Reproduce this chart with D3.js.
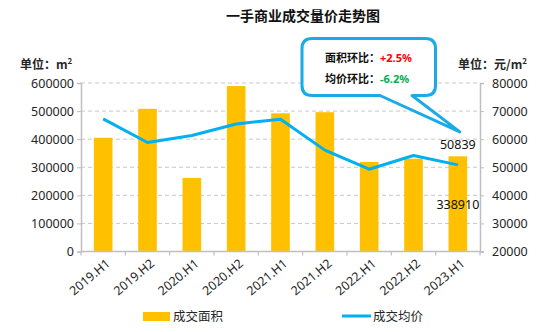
<!DOCTYPE html>
<html><head><meta charset="utf-8">
<script src="https://cdn.jsdelivr.net/npm/d3@7/dist/d3.min.js"></script>
<style>
html,body{margin:0;padding:0;background:#fff;}
svg{display:block;font-family:"Noto Sans CJK SC","Noto Sans",sans-serif;}
</style></head>
<body>
<svg id="c" width="554" height="332"></svg>
<script>
const categories = ['2019.H1','2019.H2','2020.H1','2020.H2','2021.H1','2021.H2','2022.H1','2022.H2','2023.H1'];
const areaValues = [405000, 508000, 262000, 589000, 492000, 496000, 319000, 330600, 338910];
const priceValues = [67200, 58800, 61300, 65400, 67100, 56100, 49300, 54200, 50839];
const leftTicks = [0, 100000, 200000, 300000, 400000, 500000, 600000];
const rightTicks = [20000, 30000, 40000, 50000, 60000, 70000, 80000];
const seriesNames = ['成交面积', '成交均价'];
const title = '一手商业成交量价走势图';
const calloutLines = [['面积环比：', '+2.5%'], ['均价环比：', '-6.2%']];

const svg = d3.select('#c');
const L = 81, R = 480, T = 83, B = 251.5;
const x = d3.scaleBand().domain(categories).range([L, R]).paddingInner(0.58).paddingOuter(0.29);
const xb = d3.scaleBand().domain(categories).range([L, R]);
const yL = d3.scaleLinear().domain([0, 600000]).range([B, T]);
const yR = d3.scaleLinear().domain([20000, 80000]).range([B, T]);
const textCol = '#262626';
const numFont = '"Noto Sans","Noto Sans CJK SC",sans-serif';

// title
svg.append('text').attr('x', 303).attr('y', 21).attr('text-anchor', 'middle')
  .attr('font-size', 14).attr('font-weight', 'bold').attr('fill', '#111').text(title);

// unit labels
svg.append('text').attr('x', 20).attr('y', 69).attr('font-size', 12).attr('font-weight', 'bold').attr('fill', textCol)
  .html('单位：m<tspan dy="-5" font-size="8">2</tspan>');
svg.append('text').attr('x', 458).attr('y', 69).attr('font-size', 12).attr('font-weight', 'bold').attr('fill', textCol)
  .html('单位：元/m<tspan dy="-5" font-size="8">2</tspan>');

// gridlines
svg.append('g').selectAll('line').data(leftTicks.filter(d => d > 0)).join('line')
  .attr('x1', L).attr('x2', R).attr('y1', d => yL(d)).attr('y2', d => yL(d))
  .attr('stroke', '#c8c8c8').attr('stroke-width', 1).attr('stroke-dasharray', '4,3');

// left axis
const gl = svg.append('g').attr('transform', `translate(${L},0)`)
  .call(d3.axisLeft(yL).tickValues(leftTicks).tickSize(4).tickPadding(3).tickFormat(d3.format('d')));
gl.select('.domain').attr('stroke', '#bfbfbf').attr('stroke-width', 1.5);
gl.selectAll('.tick line').attr('stroke', '#bfbfbf');
gl.selectAll('.tick text').attr('font-size', 12.5).attr('fill', textCol).attr('font-family', numFont);

// right axis
const gr = svg.append('g').attr('transform', `translate(${R},0)`)
  .call(d3.axisRight(yR).tickValues(rightTicks).tickSize(4).tickPadding(8).tickFormat(d3.format('d')));
gr.select('.domain').attr('stroke', '#bfbfbf').attr('stroke-width', 1.5);
gr.selectAll('.tick line').attr('stroke', '#bfbfbf');
gr.selectAll('.tick text').attr('font-size', 12.5).attr('fill', textCol).attr('font-family', numFont);

// bars
svg.append('g').selectAll('rect').data(areaValues).join('rect')
  .attr('x', (d, i) => x(categories[i])).attr('width', x.bandwidth())
  .attr('y', d => yL(d)).attr('height', d => B - yL(d)).attr('fill', '#FFC000');

// bottom axis
svg.append('line').attr('x1', L).attr('x2', R).attr('y1', B).attr('y2', B).attr('stroke', '#bfbfbf').attr('stroke-width', 1.5);
svg.append('g').selectAll('line').data(categories.concat(['__end'])).join('line')
  .attr('x1', (d, i) => L + i * xb.step()).attr('x2', (d, i) => L + i * xb.step())
  .attr('y1', B).attr('y2', B + 4).attr('stroke', '#bfbfbf').attr('stroke-width', 1.2);
svg.append('g').selectAll('text').data(categories).join('text')
  .attr('transform', d => `translate(${xb(d) + xb.bandwidth() / 2 + 5},${B + 10}) rotate(-40)`)
  .attr('text-anchor', 'end').attr('dy', '0.35em').attr('font-size', 12.5).attr('fill', textCol)
  .attr('font-family', numFont).text(d => d);

// line
const line = d3.line().x((d, i) => xb(categories[i]) + xb.bandwidth() / 2).y(d => yR(d));
svg.append('path').datum(priceValues).attr('d', line).attr('fill', 'none')
  .attr('stroke', '#00B0F0').attr('stroke-width', 3).attr('stroke-linejoin', 'round');

// data labels for the last point
const li = categories.length - 1;
const lx = xb(categories[li]) + xb.bandwidth() / 2;
svg.append('text').attr('x', lx).attr('y', yR(priceValues[li]) - 16).attr('text-anchor', 'middle')
  .attr('font-size', 12.5).attr('fill', '#111').attr('font-family', numFont).text(priceValues[li]);
svg.append('text').attr('x', lx).attr('y', yL(areaValues[li]) + 53).attr('text-anchor', 'middle')
  .attr('font-size', 12.5).attr('fill', '#111').attr('font-family', numFont).text(areaValues[li]);

// callout
const bx0 = 302, by0 = 38.5, bx1 = 435.5, by1 = 95.5, r = 10;
const tx = lx + 2, ty = yR(priceValues[li]) - 33;
const ta = 380, tb = 412;
const p = d3.path();
p.moveTo(bx0 + r, by0);
p.lineTo(bx1 - r, by0); p.quadraticCurveTo(bx1, by0, bx1, by0 + r);
p.lineTo(bx1, by1 - r); p.quadraticCurveTo(bx1, by1, bx1 - r, by1);
p.lineTo(tb, by1); p.lineTo(tx, ty); p.lineTo(ta, by1);
p.lineTo(bx0 + r, by1); p.quadraticCurveTo(bx0, by1, bx0, by1 - r);
p.lineTo(bx0, by0 + r); p.quadraticCurveTo(bx0, by0, bx0 + r, by0);
p.closePath();
svg.append('path').attr('d', p.toString()).attr('fill', '#fff').attr('stroke', '#1AABE6').attr('stroke-width', 3).attr('stroke-linejoin', 'round');
const colors = ['#FF0000', '#00B050'];
calloutLines.forEach((c, i) => {
  const t = svg.append('text').attr('x', 325).attr('y', 62 + i * 21).attr('font-size', 11).attr('font-weight', 'bold').attr('fill', '#111');
  t.append('tspan').text(c[0]);
  t.append('tspan').attr('fill', colors[i]).attr('font-family', numFont).text(c[1]);
});

// legend
svg.append('rect').attr('x', 143).attr('y', 312).attr('width', 27).attr('height', 9).attr('fill', '#FFC000');
svg.append('text').attr('x', 173).attr('y', 320.5).attr('font-size', 12.5).attr('fill', textCol).text(seriesNames[0]);
svg.append('line').attr('x1', 342).attr('x2', 371).attr('y1', 316).attr('y2', 316).attr('stroke', '#00B0F0').attr('stroke-width', 3);
svg.append('text').attr('x', 373).attr('y', 320.5).attr('font-size', 12.5).attr('fill', textCol).text(seriesNames[1]);
</script>
</body></html>
